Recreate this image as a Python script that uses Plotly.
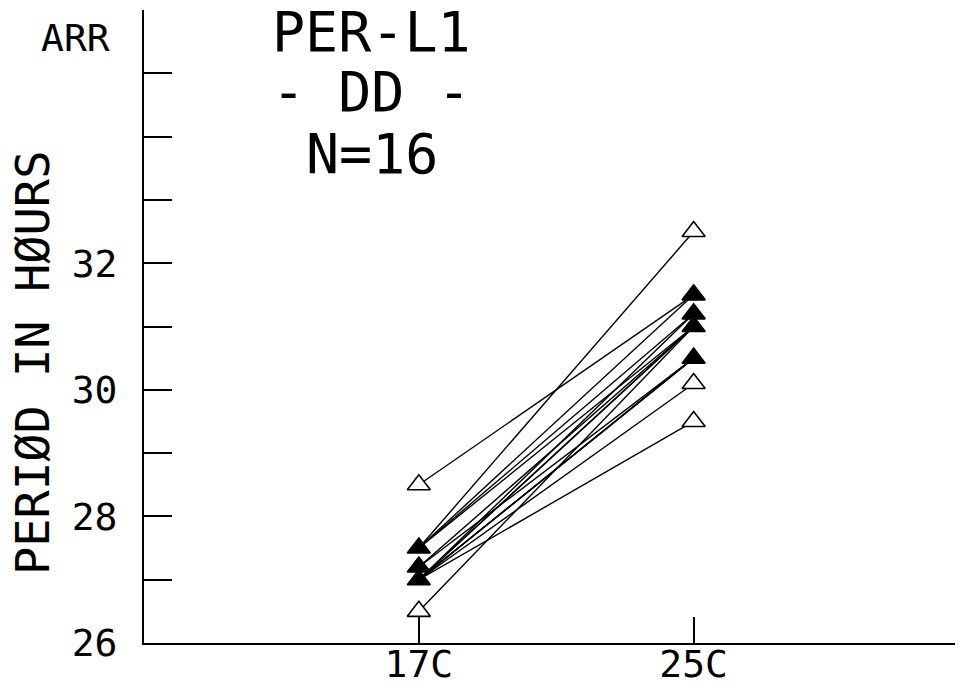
import plotly.graph_objects as go
from collections import Counter

# Paired circadian periods (hours) for each of the 16 flies
conditions = ["17C", "25C"]
period_17C = [28.5, 27.5, 26.5, 27.0, 27.0, 27.5, 27.5, 27.5,
              27.2, 27.2, 27.0, 27.0, 27.0, 27.0, 27.0, 27.0]
period_25C = [31.5, 32.5, 31.0, 29.5, 30.1, 31.5, 31.0, 31.2,
              31.0, 30.5, 31.2, 31.0, 31.0, 30.5, 30.5, 30.5]

y_tick_vals = [26, 27, 28, 29, 30, 31, 32, 33, 34, 35, 36]
y_tick_text = ["26", "", "28", "", "30", "", "32", "", "", "", ""]
arr_label = "ARR"
arr_level = 35.55
title_lines = ["PER-L1", "- DD -", "N=16"]
y_title = "PERIØD IN HØURS"

FONT = "DejaVu Sans Mono"
xpos = {c: i + 1 for i, c in enumerate(conditions)}

fig = go.Figure()

# connecting lines
lx, ly = [], []
for a, b in zip(period_17C, period_25C):
    lx += [xpos["17C"], xpos["25C"], None]
    ly += [a, b, None]
fig.add_trace(go.Scatter(x=lx, y=ly, mode="lines",
                         line=dict(color="black", width=1.4),
                         hoverinfo="skip", showlegend=False))

# markers (overlapping points look filled)
for cond, vals in (("17C", period_17C), ("25C", period_25C)):
    cnt = Counter(vals)
    ys = list(cnt.keys())
    fills = ["black" if cnt[v] > 1 else "white" for v in ys]
    fig.add_trace(go.Scatter(
        x=[xpos[cond]] * len(ys), y=ys, mode="markers",
        marker=dict(symbol="triangle-up", size=20, color=fills,
                    line=dict(color="black", width=1.6)),
        showlegend=False))

fig.update_layout(
    width=955, height=679,
    margin=dict(l=136, r=0, t=2, b=44),
    paper_bgcolor="white", plot_bgcolor="white",
    font=dict(family=FONT, color="black", size=40),
    xaxis=dict(range=[0.0, 2.98], tickmode="array", automargin=False,
               tickvals=[xpos[c] for c in conditions], ticktext=conditions,
               ticks="inside", ticklen=26, tickwidth=1.5, tickcolor="black",
               showline=True, linecolor="black", linewidth=2,
               showgrid=False, zeroline=False, ticklabelstandoff=-14,
               tickfont=dict(family=FONT, size=38)),
    yaxis=dict(range=[26, 36], tickmode="array", automargin=False,
               tickvals=y_tick_vals, ticktext=y_tick_text,
               ticks="inside", ticklen=28, tickwidth=1.5, tickcolor="black",
               showline=True, linecolor="black", linewidth=2,
               showgrid=False, zeroline=False, ticklabelstandoff=17,
               tickfont=dict(family=FONT, size=38)),
)

fig.add_annotation(text=arr_label, xref="paper", yref="y",
                   x=(112 - 144) / 819, y=arr_level,
                   xanchor="right", yanchor="middle", showarrow=False,
                   font=dict(family=FONT, size=38, color="black"))

title_y = [0.966, 0.870, 0.772]
for txt, yy in zip(title_lines, title_y):
    fig.add_annotation(text=txt, xref="paper", yref="paper", x=0.278, y=yy,
                       xanchor="center", yanchor="middle", showarrow=False,
                       font=dict(family=FONT, size=55, color="black"))

fig.add_annotation(text=y_title, xref="paper", yref="paper", x=-0.137, y=0.442,
                   xanchor="center", yanchor="middle", textangle=-90,
                   showarrow=False, font=dict(family=FONT, size=47, color="black"))

fig.write_html("out.html")
